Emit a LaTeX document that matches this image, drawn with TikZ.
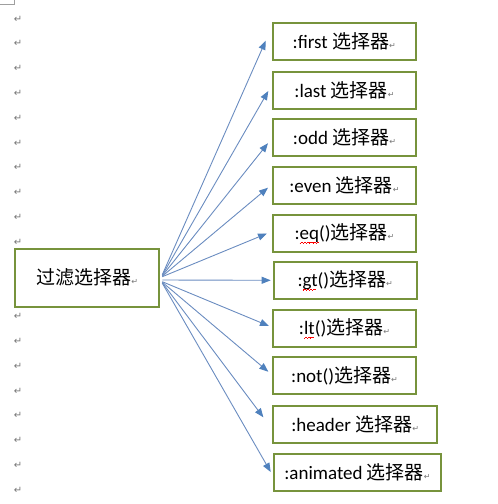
\documentclass[tikz,border=0pt]{standalone}
\usepackage{fontspec}
\usetikzlibrary{arrows.meta,calc}
\setmainfont{Carlito}
\newfontfamily\cjk{Noto Sans CJK SC}
\newfontfamily\dvs{DejaVu Sans}
\definecolor{boxgreen}{HTML}{77933C}
\definecolor{arrowblue}{HTML}{4F81BD}
\definecolor{linblue}{HTML}{6A8CC0}
\definecolor{pmgray}{HTML}{767676}
\newcommand\wavebit{\hbox{\textcolor{red}{\rule[-3.6pt]{0.8pt}{0.55pt}\rule[-3.1pt]{0.8pt}{0.55pt}\rule[-2.6pt]{0.8pt}{0.55pt}\rule[-3.1pt]{0.8pt}{0.55pt}}}}
\newcommand\redwave[1]{\setbox0\hbox{#1}\rlap{\hbox to\wd0{\leaders\wavebit\hfill}}\box0}
\newcommand\parmark{{\dvs\fontsize{8}{8}\selectfont\textcolor{pmgray}{↵}}}
\begin{document}
\begin{tikzpicture}[x=1pt,y=-1pt,
  selbox/.style={draw=boxgreen,line width=2pt,fill=white,minimum height=37pt,
    inner sep=0pt,font=\fontsize{19}{22}\selectfont},
  conn/.style={draw=linblue,line width=0.9pt,
    -{Triangle[length=9pt,width=7pt,color=arrowblue]}},
  pmk/.style={font=\dvs\fontsize{10}{10}\selectfont,text=pmgray,inner sep=0pt}]
\useasboundingbox (0,0) rectangle (498,504);
% page corner mark
\draw[pmgray!70,line width=0.6pt] (0,4) -- (14.7,4) -- (14.7,0);
% paragraph marks
\foreach \k in {0,...,9,12,13,...,19}
  \node[pmk] (p\k) at (18,{19+24.8*\k}) {↵};
% main box
\node[selbox,minimum width=144pt,minimum height=58pt] (main) at (87.3,277.7)
  {{\cjk 过滤选择器}\parmark};
% selector boxes
\node[selbox,minimum width=143pt] (b1) at (344.2,41.7) {:first {\cjk 选择器}\parmark};
\node[selbox,minimum width=143pt] (b2) at (344.5,90) {:last {\cjk 选择器}\parmark};
\node[selbox,minimum width=143pt] (b3) at (344.5,137.2) {:odd {\cjk 选择器}\parmark};
\node[selbox,minimum width=143pt] (b4) at (344.5,185.3) {:even {\cjk 选择器}\parmark};
\node[selbox,minimum width=143pt] (b5) at (344.5,233.5) {:\redwave{eq}(){\cjk 选择器}\parmark};
\node[selbox,minimum width=143pt] (b6) at (345.2,280.3) {:\redwave{gt}(){\cjk 选择器}\parmark};
\node[selbox,minimum width=143pt] (b7) at (344.5,328.3) {:\redwave{lt}(){\cjk 选择器}\parmark};
\node[selbox,minimum width=143pt] (b8) at (344.5,375.5) {:not(){\cjk 选择器}\parmark};
\node[selbox,minimum width=164.3pt] (b9) at (355.2,424.5) {:header {\cjk 选择器}\parmark};
\node[selbox,minimum width=167.6pt] (b10) at (357.5,472) {:animated {\cjk 选择器}\parmark};
% connectors
\foreach \i/\sy/\dx/\dy in {1/-3/-6/-1, 2/-2.5/-3.7/1, 3/-2/-4/6, 4/-1.5/-4/2.4,
    5/-1/-5/0, 6/2.3/-2/0, 7/4/-3/-2.3, 8/4.5/-3.7/-3.8, 9/5/-8.7/-7.2, 10/5.5/-2/0}
  \draw[conn] ($(main.east)+(2,\sy)$) -- ($(b\i.west)+(\dx,\dy)$);
\end{tikzpicture}
\end{document}
